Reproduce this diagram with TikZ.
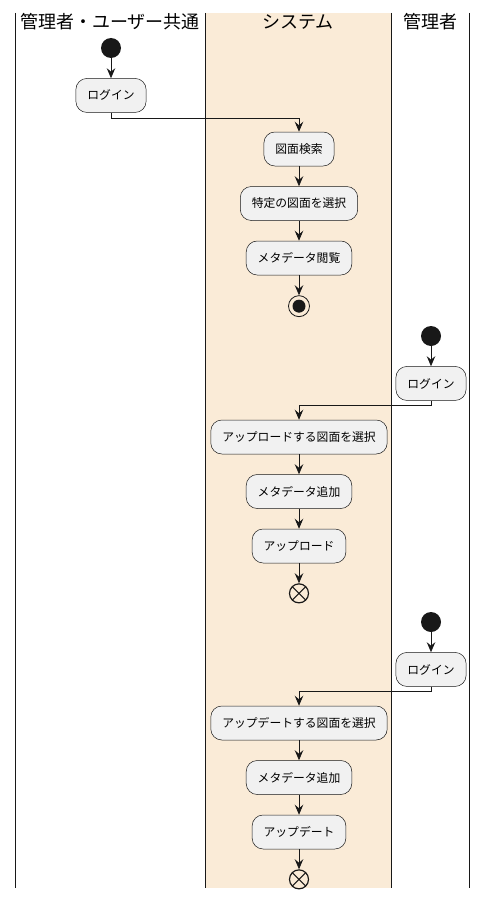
\documentclass[tikz,border=0pt]{standalone}
\usepackage{fontspec}
\newfontfamily\jpfont{Noto Sans CJK JP}
\usetikzlibrary{positioning, arrows.meta}
\definecolor{lanefill}{HTML}{FAEBD7}
\definecolor{boxfill}{HTML}{F1F1F1}
\definecolor{ink}{HTML}{181818}
\tikzset{
    action/.style={draw=ink, fill=boxfill, rounded corners=11pt, minimum height=34pt, inner xsep=11.5pt, line width=0.5pt, font=\jpfont\fontsize{11.8}{13}\selectfont},
    startdot/.style={circle, fill=ink, minimum size=20pt, inner sep=0pt},
    stopdot/.style={circle, draw=ink, line width=0.8pt, minimum size=21pt, inner sep=0pt,
        path picture={\fill[ink] (path picture bounding box.center) circle (6.5pt);}},
    flowend/.style={circle, draw=ink, line width=1.2pt, minimum size=19pt, inner sep=0pt,
        path picture={\draw[ink, line width=1.2pt] (path picture bounding box.north west) -- (path picture bounding box.south east)
            (path picture bounding box.north east) -- (path picture bounding box.south west);}},
    flow/.style={draw=ink, line width=0.8pt, -{Stealth[length=10pt, width=8.5pt, inset=3.5pt]}},
    lane/.style={draw=ink, line width=1pt},
    lanetitle/.style={font=\jpfont\fontsize{18}{21}\selectfont}
}
\begin{document}
\begin{tikzpicture}[x=1pt, y=-1pt, node distance=20pt]
    \useasboundingbox (0,0) rectangle (488,899);
    % lanes
    \fill[lanefill] (205,13) rectangle (391,888);
    \foreach \lx in {15, 205, 391, 469}
        \draw[lane] (\lx,13) -- (\lx,888);
    \node[lanetitle] (common) at (110,22) {管理者・ユーザー共通};
    \node[lanetitle] (system) at (298,22) {システム};
    \node[lanetitle] (admin) at (430,22) {管理者};
    % ---- view
    \node[startdot] (s1) at (111,48) {};
    \node[action, below = of s1] (login1) {ログイン};
    \node[action] (search) at (299,149) {図面検索};
    \node[action, below = of search] (pick) {特定の図面を選択};
    \node[action, below = of pick] (view) {メタデータ閲覧};
    \node[stopdot, below = of view] (e1) {};
    \draw[flow] (s1) -- (login1);
    \draw[flow] (login1.south) -- ++(0,6) -| (search.north);
    \draw[flow] (search) -- (pick);
    \draw[flow] (pick) -- (view);
    \draw[flow] (view) -- (e1);
    % ---- upload
    \node[startdot] (s2) at (431,336) {};
    \node[action, below = of s2] (login2) {ログイン};
    \node[action] (upsel) at (299,437) {アップロードする図面を選択};
    \node[action, below = of upsel] (upmeta) {メタデータ追加};
    \node[action, below = of upmeta] (upload) {アップロード};
    \node[flowend, below = of upload] (e2) {};
    \draw[flow] (s2) -- (login2);
    \draw[flow] (login2.south) -- ++(0,5) -| (upsel.north);
    \draw[flow] (upsel) -- (upmeta);
    \draw[flow] (upmeta) -- (upload);
    \draw[flow] (upload) -- (e2);
    % ---- update
    \node[startdot] (s3) at (431,622) {};
    \node[action, below = of s3] (login3) {ログイン};
    \node[action] (updsel) at (299,723) {アップデートする図面を選択};
    \node[action, below = of updsel] (updmeta) {メタデータ追加};
    \node[action, below = of updmeta] (update) {アップデート};
    \node[flowend, below = of update] (e3) {};
    \draw[flow] (s3) -- (login3);
    \draw[flow] (login3.south) -- ++(0,5) -| (updsel.north);
    \draw[flow] (updsel) -- (updmeta);
    \draw[flow] (updmeta) -- (update);
    \draw[flow] (update) -- (e3);
\end{tikzpicture}
\end{document}
